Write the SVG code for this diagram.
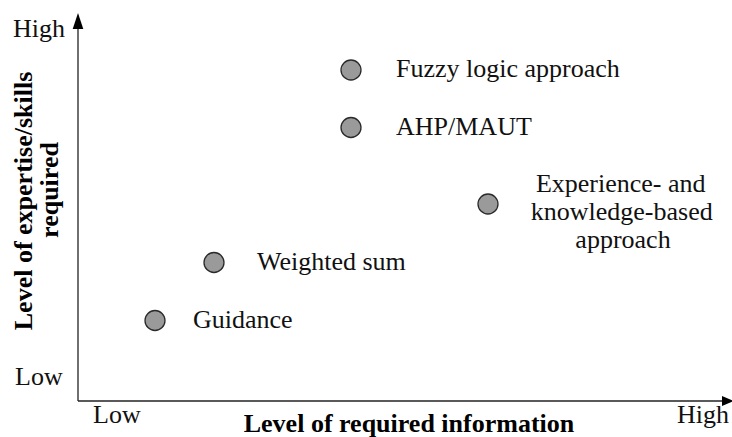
<svg xmlns="http://www.w3.org/2000/svg" width="732" height="437" viewBox="0 0 732 437">
  <defs>
    <style>
      .lbl { font-family: "Liberation Serif", "Times New Roman", serif; font-size: 26px; fill: #111; }
      .title { font-family: "Liberation Serif", "Times New Roman", serif; font-size: 26px; font-weight: bold; fill: #000; }
      .dot { fill: #9a9a9a; stroke: #2a2a2a; stroke-width: 1.3; }
      .axis { stroke: #222; stroke-width: 1.3; fill: none; }
    </style>
  </defs>
  <rect width="732" height="437" fill="#fff"/>

  <!-- axes -->
  <g id="axes">
    <line class="axis" x1="78" y1="26" x2="78" y2="401"/>
    <polygon points="78,13 72.7,29 83.3,29" fill="#000"/>
    <line class="axis" x1="78" y1="401" x2="724" y2="401" stroke="#444"/>
    <polygon points="734,401 722,396 722,406" fill="#000"/>
    <text class="lbl" x="13" y="37">High</text>
    <text class="lbl" x="15" y="385">Low</text>
    <text class="lbl" x="93" y="423">Low</text>
    <text class="lbl" x="677" y="423">High</text>
    <text class="title" x="409" y="432" text-anchor="middle">Level of required information</text>
    <text class="title" transform="translate(32,201) rotate(-90)" text-anchor="middle">Level of expertise/skills</text>
    <text class="title" transform="translate(58,190) rotate(-90)" text-anchor="middle">required</text>
  </g>

  <!-- methods -->
  <g id="fuzzy">
    <circle class="dot" cx="351" cy="70" r="10"/>
    <text class="lbl" x="396" y="77">Fuzzy logic approach</text>
  </g>
  <g id="ahp">
    <circle class="dot" cx="351" cy="127.5" r="10"/>
    <text class="lbl" x="396" y="135">AHP/MAUT</text>
  </g>
  <g id="experience">
    <circle class="dot" cx="488" cy="204" r="10"/>
    <text class="lbl" text-anchor="middle">
      <tspan x="624" y="192">Experience- and</tspan>
      <tspan x="625" y="220">knowledge-based</tspan>
      <tspan x="623" y="248">approach</tspan>
    </text>
  </g>
  <g id="weighted">
    <circle class="dot" cx="214" cy="262.5" r="10"/>
    <text class="lbl" x="257" y="270">Weighted sum</text>
  </g>
  <g id="guidance">
    <circle class="dot" cx="155" cy="320.5" r="10"/>
    <text class="lbl" x="193" y="328">Guidance</text>
  </g>
</svg>
